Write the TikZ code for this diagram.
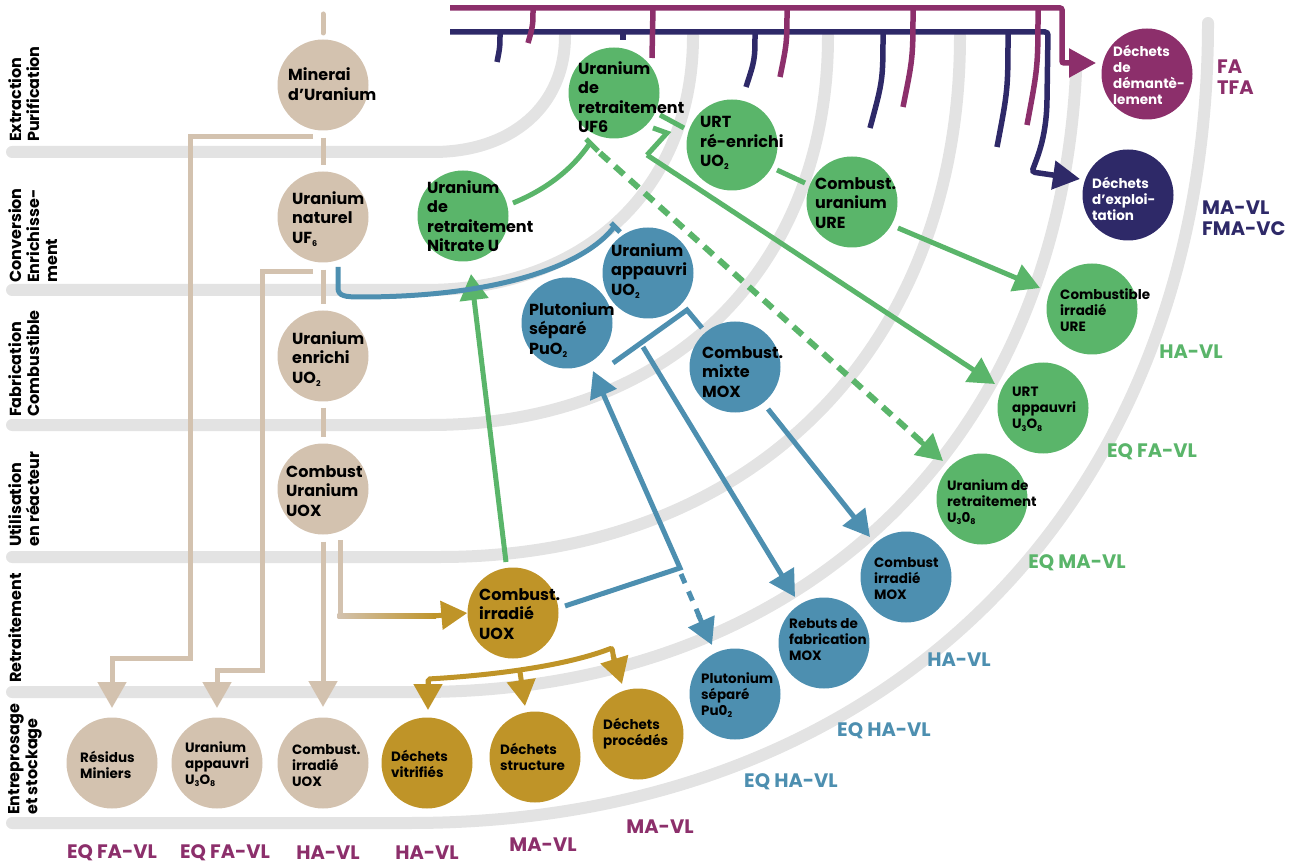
\documentclass[tikz,border=0pt]{standalone}
\usepackage{fontspec}
\setmainfont{Poppins}
\usetikzlibrary{arrows.meta}
\definecolor{bandc}{HTML}{E3E3E3}
\definecolor{beige}{HTML}{D3C2AF}
\definecolor{gold}{HTML}{BF9428}
\definecolor{grn}{HTML}{5AB56A}
\definecolor{blu}{HTML}{4D8FB0}
\definecolor{mag}{HTML}{8C2F6B}
\definecolor{nav}{HTML}{2E2968}
\newcommand\dn[1]{\raisebox{-0.35ex}{\fontsize{8}{8}\selectfont #1}}
\newcommand\ap{\char39\relax}
\newcommand\bandarc[4]{\draw[bandline] (12,#1) -- (#2,#1) .. controls ({#2+0.6*#3},#1) and ({#2+#3},{#4+0.6*(#1-#4)}) .. ({#2+#3},#4);}
\begin{document}
\begin{tikzpicture}[x=1pt,y=-1pt,
  bandline/.style={line width=12pt, draw=bandc, line cap=round},
  ball/.style={circle, minimum size=91pt, inner sep=0pt, draw=none},
  big/.style={font=\fontsize{16}{19.5}\selectfont\bfseries, align=left, anchor=west, inner sep=0pt},
  small/.style={font=\fontsize{13.5}{16}\selectfont\bfseries, align=left, anchor=west, inner sep=0pt},
  rot/.style={font=\fontsize{16}{18}\selectfont\bfseries, align=left, rotate=90, anchor=north west, inner sep=0pt},
  lvl/.style={font=\fontsize{19.5}{21}\selectfont\bfseries, inner sep=0pt},
  con/.style={line width=5pt},
  tip/.style={-{Triangle[width=28pt,length=26pt]}},
]
\useasboundingbox (0,0) rectangle (1293,866);
% grey bands
\bandarc{152}{433}{132}{36}
\bandarc{290}{425}{268}{36}
\bandarc{425}{430}{398}{36}
\bandarc{557}{440}{520}{36}
\begin{scope}
\clip (0,64) rectangle (1293,866);
\bandarc{692}{420}{657}{30}
\end{scope}
\bandarc{823}{410}{798}{23}

% stage labels
\node[rot] (l1) at (8,142) {Extraction\\Purification};
\node[rot] (l2) at (8,283) {Conversion\\Enrichisse-\\ment};
\node[rot] (l3) at (8,417) {Fabrication\\Combustible};
\node[rot] (l4) at (8,547) {Utilisation\\en réacteur};
\node[rot] (l5) at (8,683) {Retraitement};
\node[rot] (l6) at (8,815) {Entreprosage\\et stockage};

% nodes
\node[ball,fill=beige] (min) at (323,85) {};
\node[ball,fill=beige] (nat) at (323,217) {};
\node[ball,fill=beige] (enr) at (323,356) {};
\node[ball,fill=beige] (uox) at (323,489) {};
\node[ball,fill=beige] (res) at (112,763) {};
\node[ball,fill=beige] (uapp) at (217,763) {};
\node[ball,fill=beige] (cuox) at (323,763) {};
\node[ball,fill=gold] (girr) at (513,613) {};
\node[ball,fill=gold] (dvit) at (427,763) {};
\node[ball,fill=gold] (dstr) at (535,757) {};
\node[ball,fill=gold] (dproc) at (638,734) {};
\node[ball,fill=grn] (uf6r) at (614,93) {};
\node[ball,fill=grn] (urtre) at (732,145) {};
\node[ball,fill=grn] (cure) at (852,202) {};
\node[ball,fill=grn] (nitr) at (463,216) {};
\node[ball,fill=grn] (cire) at (1092,309) {};
\node[ball,fill=grn] (urtapp) at (1043,408) {};
\node[ball,fill=grn] (ur308) at (982,499) {};
\node[ball,fill=blu] (uappb) at (648,273) {};
\node[ball,fill=blu] (pusep) at (567,323) {};
\node[ball,fill=blu] (cmox) at (735,367) {};
\node[ball,fill=blu] (cimox) at (906,577) {};
\node[ball,fill=blu] (rebuts) at (824,643) {};
\node[ball,fill=blu] (pusep2) at (735,694) {};
\node[ball,fill=mag] (ddem) at (1147,74) {};
\node[ball,fill=nav] (dexp) at (1128,195) {};

% connectors: top magenta / navy
\coordinate (m0) at (450,8);
\coordinate (n0) at (450,32);
\coordinate (mtip) at (1096,63);
\coordinate (ntip) at (1080,179);
\draw[mag,line width=5.5pt,rounded corners=2pt,-{Triangle[width=28pt,length=27pt]}] (m0) -- (1062,8) -- (1062,63) -- (mtip);
\draw[nav,line width=5.5pt,rounded corners=3pt,-{Triangle[width=28pt,length=27pt]}] (n0) -- (1048,32) -- (1047,100) .. controls (1046,140) and (1036,160) .. (1032,172) -- (ntip);
\foreach \a/\b/\c in {533/528/43, 653/652/58, 787/780/77, 913/903/107, 1038/1027/125}
  \draw[mag,line width=5.5pt] (\a,8) .. controls (\a,{(8+\c)/2}) .. (\b,\c);
\foreach \a/\b/\c in {500/497/62, 623/623/40, 755/746/87, 883/870/128, 1008/997/147}
  \draw[nav,line width=5.5pt] (\a,32) .. controls (\a,{(32+\c)/2}) .. (\b,\c);

% beige
\draw[beige,con,line cap=round] (323,14) -- (323,33);
\draw[beige,con] (min.south) ++(0,7) -- (323,165);
\draw[beige,con] (nat.south) ++(0,7) -- (323,304);
\draw[beige,con] (enr.south) ++(0,6) -- (323,437);
\draw[beige,con,tip] (uox.south) ++(0,7) -- (323,707);
\draw[beige,con,tip] (313,137) -- (190,137) -- (190,658) -- (112,658) -- (112,708);
\draw[beige,con,tip] (313,272) -- (262,272) -- (262,670) -- (217,670) -- (217,708);
\draw[beige,con] (340,540) -- (340,616);
\shade[left color=beige, right color=gold] (337.5,613.5) rectangle (436,618.5);
\draw[gold,con,tip] (433,616) -- (girr.west);

% gold
\draw[gold,con,rounded corners=2pt] (428,690) -- (428,679) .. controls (480,676) and (560,668) .. (612,648) -- (614,660);
\draw[gold,con,tip] (428,680) -- (428,710);
\draw[gold,con,tip] (520,672) -- (525,706);
\draw[gold,con,tip] (613,655) -- (622,684);

% green
\draw[grn,con,tip] (506,562) -- (471,274);
\draw[grn,con] (513,203) .. controls (545,190) and (572,170) .. (590,143);
\draw[grn,con] (586,139) -- (598,151);
\draw[grn,line width=6pt,dash pattern=on 12pt off 8pt] (600,153) -- (925,445);
\draw[grn,con,tip] (920,441) -- (943,461);
\draw[grn,con] (653,128) -- (667,133) -- (647,155);
\draw[grn,con,tip] (647,155) -- (995,384);
\draw[grn,con] (660,115) -- (684,128);
\draw[grn,con] (777,170) -- (805,183);
\draw[grn,con,tip] (898,228) -- (1040,288);

% blue
\draw[blu,con] (338,267) -- (338,288) .. controls (338,296) and (345,297) .. (360,297) .. controls (500,297) and (585,265) .. (614,227);
\draw[blu,con] (611,223) -- (620,232);
\draw[blu,con,tip] (565,606) -- (680,568) -- (593,371);
\draw[blu,con,dash pattern=on 10pt off 9pt] (681,574) -- (700,618);
\draw[blu,con,tip] (698,614) -- (712,645);
\draw[blu,con] (613,363) -- (687,310) -- (702,328);
\draw[blu,con,tip] (643,347) -- (795,597);
\draw[blu,con,tip] (768,409) -- (870,537);

% texts
\node[big] at (288,84) {Minerai\\d\ap Uranium};
\node[big] at (292,219) {Uranium\\naturel\\UF\dn{6}};
\node[big] at (292,359) {Uranium\\enrichi\\UO\dn{2}};
\node[big] at (286,491) {Combust\\Uranium\\UOX};
\node[small] at (80,765) {Résidus\\Miniers};
\node[small] at (185,764) {Uranium\\appauvri\\U\dn{3}O\dn{8}};
\node[small] at (292,766) {Combust.\\irradié\\UOX};
\node[big] at (479,614) {Combust.\\irradié\\UOX};
\node[small] at (391,764) {Déchets\\vitrifiés};
\node[small] at (500,757) {Déchets\\structure};
\node[small] at (603,734) {Déchets\\procédés};
\node[big] at (578,97) {Uranium\\de\\retraitement\\UF6};
\node[big] at (700,143) {URT\\ré-enrichi\\UO\dn{2}};
\node[big] at (815,203) {Combust.\\uranium\\URE};
\node[big] at (427,216) {Uranium\\de\\retraitement\\Nitrate U};
\node[small] at (1060,310) {Combustible\\irradié\\URE};
\node[small] at (1012,409) {URT\\appauvri\\U\dn{3}O\dn{8}};
\node[small] at (947,502) {Uranium de\\retraitement\\U\dn{3}0\dn{8}};
\node[big] at (611,271) {Uranium\\appauvri\\UO\dn{2}};
\node[big] at (529,330) {Plutonium\\séparé\\PuO\dn{2}};
\node[big] at (702,372) {Combust.\\mixte\\MOX};
\node[small] at (874,579) {Combust\\irradié\\MOX};
\node[small] at (789,640) {Rebuts de\\fabrication\\MOX};
\node[small] at (701,695) {Plutonium\\séparé\\Pu0\dn{2}};
\node[small,text=white] at (1113,75) {Déchets\\de\\démantè-\\lement};
\node[small,text=white] at (1092,199) {Déchets\\d\ap exploi-\\tation};

% level labels
\node[lvl,text=mag] (e1) at (112,853) {EQ FA-VL};
\node[lvl,text=mag] (e2) at (225,853) {EQ FA-VL};
\node[lvl,text=mag] (e3) at (328,853) {HA-VL};
\node[lvl,text=mag] (e4) at (427,853) {HA-VL};
\node[lvl,text=mag] (e5) at (543,845) {MA-VL};
\node[lvl,text=mag] (e6) at (660,827) {MA-VL};
\node[lvl,text=blu] (e7) at (791,782) {EQ HA-VL};
\node[lvl,text=blu] (e8) at (884,731) {EQ HA-VL};
\node[lvl,text=blu] (e9) at (959,660) {HA-VL};
\node[lvl,text=grn] (e10) at (1077,563) {EQ MA-VL};
\node[lvl,text=grn] (e11) at (1152,452) {EQ FA-VL};
\node[lvl,text=grn] (e12) at (1191,352) {HA-VL};
\node[lvl,text=nav,align=left,anchor=west] (e13) at (1202,218) {MA-VL\\FMA-VC};
\node[lvl,text=mag,align=left,anchor=west] (e14) at (1217,77) {FA\\TFA};
\end{tikzpicture}
\end{document}
